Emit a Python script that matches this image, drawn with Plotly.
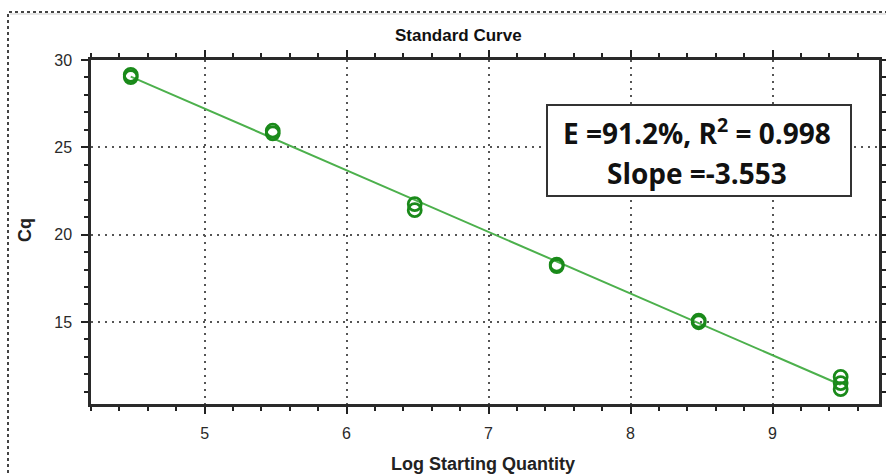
import numpy as np
import plotly.graph_objects as go

# Data
log_qty = [4.48, 4.48, 5.48, 5.48, 6.48, 6.48, 7.48, 7.48, 8.48, 8.48, 9.48, 9.48, 9.48]
cq = [29.02, 29.15, 25.8, 25.95, 21.75, 21.4, 18.28, 18.2, 15.08, 14.98, 11.85, 11.5, 11.15]

x_ticks = [5, 6, 7, 8, 9]
y_ticks = [15, 20, 25, 30]

title = "Standard Curve"
x_title = "Log Starting Quantity"
y_title = "Cq"
stats_line1 = "E =91.2%, R<sup>2</sup> = 0.998"
stats_line2 = "Slope =-3.553"

# Fitted standard curve (least squares through the points)
slope, intercept = np.polyfit(log_qty, cq, 1)
fit_x = [min(log_qty), max(log_qty)]
fit_y = [slope * v + intercept for v in fit_x]

fig = go.Figure()
fig.add_trace(go.Scatter(x=fit_x, y=fit_y, mode="lines",
                         line=dict(color="#4cb04c", width=2),
                         hoverinfo="skip", showlegend=False))
fig.add_trace(go.Scatter(x=log_qty, y=cq, mode="markers",
                         marker=dict(symbol="circle-open", size=13,
                                     color="#1a8a1a", line=dict(width=2.8, color="#1a8a1a")),
                         showlegend=False))

W, H = 886, 474
L, R, T, B = 91, 7, 60, 70
pw, ph = W - L - R, H - T - B

def px(x):
    return (x - L) / pw

def py(y):
    return (H - B - y) / ph

axis_common = dict(ticks="outside", ticklen=7, tickwidth=2, tickcolor="#222",
                   showline=True, linecolor="#2a2a2a", linewidth=2.5,
                   mirror="allticks", showgrid=True, gridcolor="#555",
                   griddash="2px,5px", gridwidth=1.6, zeroline=False,
                   automargin=False, ticklabelstandoff=6,
                   tickfont=dict(size=16, color="#2a2a2a",
                                 family="Liberation Sans, Arial, sans-serif"))

fig.update_layout(
    width=W, height=H,
    margin=dict(l=L, r=R, t=T, b=B, autoexpand=False),
    paper_bgcolor="white", plot_bgcolor="white",
    font=dict(family="Liberation Sans, Arial, sans-serif", color="#222222", size=14),
    xaxis=dict(range=[4.2, 9.75], tickvals=x_ticks,
               minor=dict(dtick=0.2, ticks="outside", ticklen=4, tickwidth=1.5,
                          tickcolor="#222", showgrid=False),
               **axis_common),
    yaxis=dict(range=[10.3, 30], tickvals=y_ticks,
               minor=dict(dtick=1, ticks="outside", ticklen=4, tickwidth=1.5,
                          tickcolor="#222", showgrid=False),
               **axis_common),
)

# titles as paper annotations
fig.add_annotation(xref="paper", yref="paper", x=px(458), y=py(35),
                   xanchor="center", yanchor="middle", showarrow=False,
                   text="<b>" + title + "</b>",
                   font=dict(size=17, color="#111"))
fig.add_annotation(xref="paper", yref="paper", x=px(483), y=py(464),
                   xanchor="center", yanchor="middle", showarrow=False,
                   text="<b>" + x_title + "</b>",
                   font=dict(size=18, color="#222"))
fig.add_annotation(xref="paper", yref="paper", x=px(25), y=py(230),
                   xanchor="center", yanchor="middle", showarrow=False,
                   textangle=-90, text="<b>" + y_title + "</b>",
                   font=dict(size=18, color="#222"))

# outer dotted frame
fig.add_shape(type="rect", xref="paper", yref="paper",
              x0=px(8), x1=px(W + 20), y0=py(H + 20), y1=py(12),
              line=dict(color="#444", width=2, dash="dot"), layer="above")
fig.add_shape(type="line", xref="paper", yref="paper",
              x0=px(10), x1=px(W + 20), y0=py(14), y1=py(14),
              line=dict(color="#e6e6e6", width=2))

# stats box
fig.add_shape(type="rect", xref="paper", yref="paper",
              x0=px(547), x1=px(851), y0=py(196), y1=py(105),
              line=dict(color="#333", width=2), fillcolor="white", layer="above")
fig.add_annotation(xref="paper", yref="paper", x=px(697), y=py(131),
                   xanchor="center", yanchor="middle",
                   text="<b>" + stats_line1 + "</b>", showarrow=False,
                   font=dict(size=28, color="#111", family="Open Sans, Liberation Sans, sans-serif"))
fig.add_annotation(xref="paper", yref="paper", x=px(697), y=py(173),
                   xanchor="center", yanchor="middle",
                   text="<b>" + stats_line2 + "</b>", showarrow=False,
                   font=dict(size=28, color="#111", family="Open Sans, Liberation Sans, sans-serif"))

fig.write_html("out.html")
